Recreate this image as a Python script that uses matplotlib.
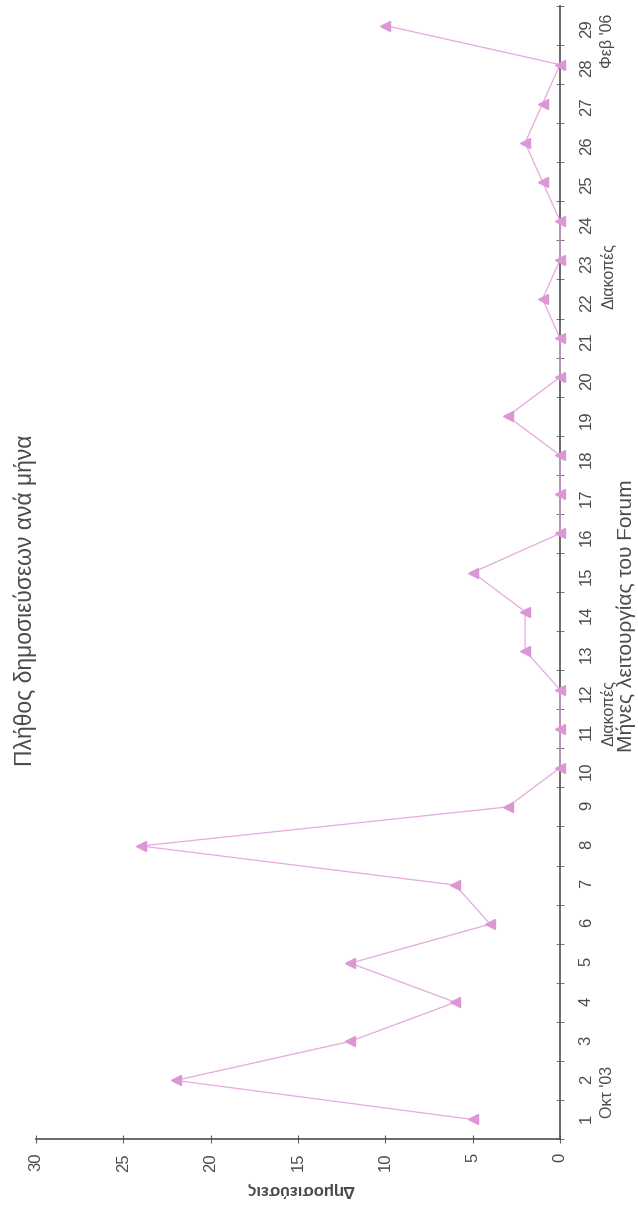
import matplotlib.pyplot as plt
from matplotlib.ticker import FixedLocator

plt.rcParams['font.family'] = ['Liberation Sans', 'DejaVu Sans']

# posts per month of the forum (month 1 = Oct '03 ... month 29 = Feb '06)
months = list(range(1, 30))
posts = [5, 22, 12, 6, 12, 4, 6, 24, 3, 0,
         0, 0, 2, 2, 5, 0, 0, 0, 3, 0,
         0, 1, 0, 0, 1, 2, 1, 0, 10]
value_ticks = [0, 5, 10, 15, 20, 25, 30]

# extra category captions (month position, text)
period_pos = [1.7, 11.4, 22.6, 28.6]
period_txt = ["Οκτ '03", "Διακοπές", "Διακοπές", "Φεβ '06"]

title = "Πλήθος δημοσιεύσεων ανά μήνα"
xlabel = "Μήνες λειτουργίας του Forum"
ylabel = "Δημοσιεύσεις"

W, H = 638, 1211
fig = plt.figure(figsize=(W / 100, H / 100), dpi=100)
# chart is drawn turned 90 degrees counter-clockwise
ax = fig.add_axes([36 / W, 1 - 1139 / H, (560 - 36) / W, (1139 - 6) / H])

ax.plot(posts, months, color='#e6a9dc', lw=0.9, marker='<', ms=6.5,
        mfc='#dc96d6', mec='#dc96d6', zorder=3, clip_on=False)

ax.set_xlim(30, 0)
ax.set_ylim(0.5, 29.5)

for s in ['top', 'left']:
    ax.spines[s].set_visible(False)
for s in ['right', 'bottom']:
    ax.spines[s].set_color('#505050')
    ax.spines[s].set_linewidth(1.2)

ax.yaxis.tick_right()
ax.set_yticks(months)
ax.set_yticklabels([str(m) for m in months], rotation=90, fontsize=12, color='#4a4a4a')
ax.yaxis.set_minor_locator(FixedLocator([m + 0.5 for m in range(0, 30)]))
ax.tick_params(axis='y', which='major', length=0, pad=13.5)
ax.tick_params(axis='y', which='minor', length=6, direction='inout', color='#606060')

ax.set_xticks(value_ticks)
ax.set_xticklabels([str(v) for v in value_ticks], rotation=90, fontsize=12, color='#4a4a4a')
ax.tick_params(axis='x', length=6, direction='inout', color='#606060', pad=7)

tr = ax.get_yaxis_transform()
for p, t in zip(period_pos, period_txt):
    ax.text(1.091, p, t, transform=tr, rotation=90, ha='center', va='center',
            fontsize=11.5, color='#4a4a4a')

ax.text(1.126, 13.9, xlabel, transform=tr, rotation=90, ha='center', va='center',
        fontsize=15, color='#4a4a4a')

fig.text(25 / W, 1 - 600 / H, title, rotation=90, ha='center', va='center',
         fontsize=16.5, color='#4a4a4a')
fig.text(300 / W, 1 - 1190 / H, ylabel, rotation=180, ha='center', va='center',
         fontsize=12, fontweight='bold', color='#4a4a4a')

fig.savefig('out.png', dpi=100, facecolor='white')
